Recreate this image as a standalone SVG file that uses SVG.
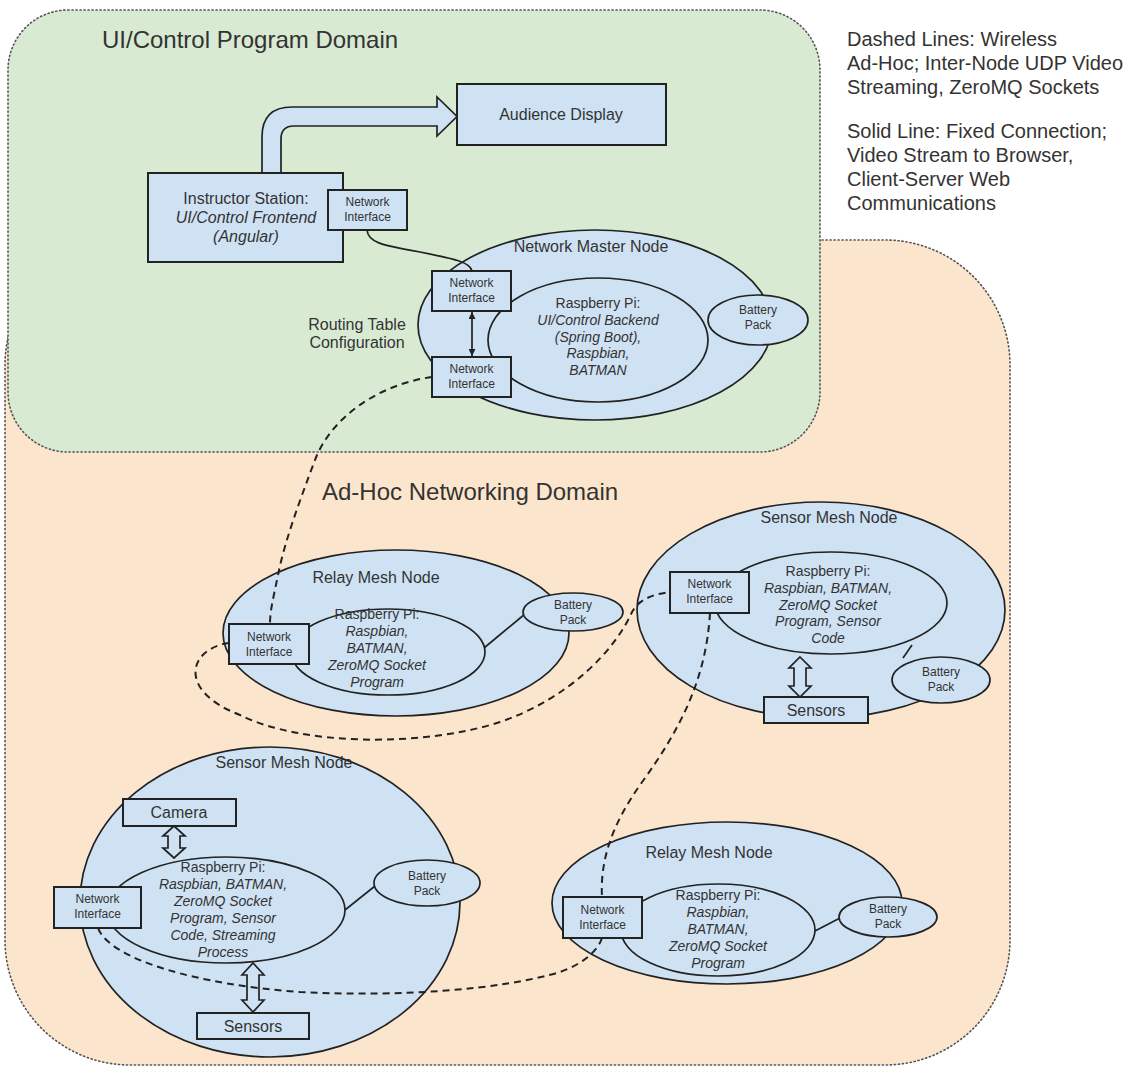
<svg xmlns="http://www.w3.org/2000/svg" width="1134" height="1068" viewBox="0 0 1134 1068">
<defs>
<style>
.dom{stroke:#555;stroke-width:1.6;stroke-dasharray:1.2 2.8;stroke-linecap:round}
.node{fill:#cfe2f3;stroke:#222;stroke-width:1.7}
.box{fill:#cfe2f3;stroke:#222;stroke-width:2}
.t{font-family:"Liberation Sans",Arial,sans-serif;fill:#333;text-anchor:middle}
.l{text-anchor:start}
.i{font-style:italic}
.f12{font-size:12px}
.f14{font-size:14px}
.f16{font-size:16px}
.f20{font-size:20px}
.f24{font-size:24px}
.dash{fill:none;stroke:#222;stroke-width:2;stroke-dasharray:7 5}
.solid{fill:none;stroke:#222;stroke-width:1.7}
</style>
<marker id="ah" viewBox="0 0 10 10" refX="10" refY="5" markerWidth="7" markerHeight="7" markerUnits="userSpaceOnUse" orient="auto-start-reverse">
<path d="M0,0 L10,5 L0,10 Z" fill="#222"/>
</marker>
</defs>

<g id="domains">
<rect id="adhoc-domain" x="5" y="240" width="1005" height="825" rx="125" ry="125" fill="#fce5cd" class="dom"/>
<rect id="ui-domain" x="8" y="10" width="812" height="442" rx="60" ry="60" fill="#d9ead3" class="dom"/>
<text class="t l f24" x="102" y="48">UI/Control Program Domain</text>
<text class="t l f24" x="322" y="500">Ad-Hoc Networking Domain</text>
</g>

<g id="legend" class="t l f20">
<text x="847" y="46">Dashed Lines: Wireless</text>
<text x="847" y="70">Ad-Hoc; Inter-Node UDP Video</text>
<text x="847" y="94">Streaming, ZeroMQ Sockets</text>
<text x="847" y="138">Solid Line: Fixed Connection;</text>
<text x="847" y="162">Video Stream to Browser,</text>
<text x="847" y="186">Client-Server Web</text>
<text x="847" y="210">Communications</text>
</g>

<g id="audience-arrow">
<path class="node" d="M262,173 L262,137 Q262,107 292,107 L437,107 L437,97 L457,116.5 L437,136 L437,126 L294,126 Q281,126 281,139 L281,173 Z"/>
</g>

<g id="audience-display">
<rect class="box" x="457" y="84" width="209" height="61"/>
<text class="t f16" x="561" y="120">Audience Display</text>
</g>

<g id="instructor-station">
<rect class="box" x="148" y="173" width="195" height="89"/>
<text class="t f16" x="246" y="204">Instructor Station:</text>
<text class="t f16 i" x="246" y="223">UI/Control Frontend</text>
<text class="t f16 i" x="246" y="242">(Angular)</text>
<rect class="box" x="328" y="190" width="79" height="40"/>
<text class="t f12" x="367.5" y="206">Network</text>
<text class="t f12" x="367.5" y="221">Interface</text>
</g>

<g id="network-master-node">
<ellipse class="node" cx="595" cy="325" rx="177" ry="95"/>
<ellipse class="node" cx="598" cy="340" rx="110" ry="62"/>
<ellipse class="node" cx="758" cy="320" rx="50" ry="25"/>
<text class="t f16" x="591" y="252">Network Master Node</text>
<text class="t f14" x="598" y="308">Raspberry Pi:</text>
<text class="t f14 i" x="598" y="325">UI/Control Backend</text>
<text class="t f14 i" x="598" y="341.5">(Spring Boot),</text>
<text class="t f14 i" x="598" y="358">Raspbian,</text>
<text class="t f14 i" x="598" y="375">BATMAN</text>
<text class="t f12" x="758" y="314">Battery</text>
<text class="t f12" x="758" y="329">Pack</text>
<rect class="box" x="432" y="271" width="79" height="40"/>
<text class="t f12" x="471.5" y="287">Network</text>
<text class="t f12" x="471.5" y="302">Interface</text>
<rect class="box" x="432" y="357" width="79" height="40"/>
<text class="t f12" x="471.5" y="373">Network</text>
<text class="t f12" x="471.5" y="388">Interface</text>
<text class="t f16" x="357" y="330">Routing Table</text>
<text class="t f16" x="357" y="348">Configuration</text>
</g>

<g id="relay-mesh-node-1">
<ellipse class="node" cx="396" cy="633" rx="173" ry="83"/>
<line class="solid" x1="484" y1="648" x2="525" y2="614"/>
<ellipse class="node" cx="388" cy="652" rx="97" ry="43"/>
<ellipse class="node" cx="573" cy="612" rx="50" ry="19"/>
<text class="t f16" x="376" y="583">Relay Mesh Node</text>
<text class="t f14" x="377" y="619">Raspberry Pi:</text>
<text class="t f14 i" x="377" y="636">Raspbian,</text>
<text class="t f14 i" x="377" y="653">BATMAN,</text>
<text class="t f14 i" x="377" y="670">ZeroMQ Socket</text>
<text class="t f14 i" x="377" y="687">Program</text>
<text class="t f12" x="573" y="609">Battery</text>
<text class="t f12" x="573" y="624">Pack</text>
<rect class="box" x="229" y="624" width="80" height="40"/>
<text class="t f12" x="269" y="641">Network</text>
<text class="t f12" x="269" y="656">Interface</text>
</g>

<g id="sensor-mesh-node-1">
<ellipse class="node" cx="821" cy="610" rx="184" ry="108"/>
<line class="solid" x1="912" y1="645" x2="903" y2="658"/>
<ellipse class="node" cx="831" cy="603" rx="116" ry="51"/>
<ellipse class="node" cx="941" cy="680" rx="49" ry="23"/>
<text class="t f16" x="829" y="523">Sensor Mesh Node</text>
<text class="t f14" x="828" y="576">Raspberry Pi:</text>
<text class="t f14 i" x="828" y="593">Raspbian, BATMAN,</text>
<text class="t f14 i" x="828" y="610">ZeroMQ Socket</text>
<text class="t f14 i" x="828" y="626">Program, Sensor</text>
<text class="t f14 i" x="828" y="643">Code</text>
<text class="t f12" x="941" y="676">Battery</text>
<text class="t f12" x="941" y="691">Pack</text>
<rect class="box" x="670" y="572" width="79" height="41"/>
<text class="t f12" x="709.5" y="588">Network</text>
<text class="t f12" x="709.5" y="603">Interface</text>
<polygon class="node" points="800,657 811,668 806,668 806,686 811,686 800,697 789,686 794,686 794,668 789,668"/>
<rect class="box" x="764" y="697" width="104" height="26"/>
<text class="t f16" x="816" y="716">Sensors</text>
</g>

<g id="relay-mesh-node-2">
<ellipse class="node" cx="727" cy="903" rx="175" ry="81"/>
<line class="solid" x1="815" y1="931" x2="840" y2="918"/>
<ellipse class="node" cx="718" cy="930" rx="97" ry="46"/>
<ellipse class="node" cx="888" cy="917" rx="49" ry="20"/>
<text class="t f16" x="709" y="858">Relay Mesh Node</text>
<text class="t f14" x="718" y="900">Raspberry Pi:</text>
<text class="t f14 i" x="718" y="917">Raspbian,</text>
<text class="t f14 i" x="718" y="934">BATMAN,</text>
<text class="t f14 i" x="718" y="951">ZeroMQ Socket</text>
<text class="t f14 i" x="718" y="968">Program</text>
<text class="t f12" x="888" y="913">Battery</text>
<text class="t f12" x="888" y="928">Pack</text>
<rect class="box" x="563" y="897" width="79" height="41"/>
<text class="t f12" x="602.5" y="914">Network</text>
<text class="t f12" x="602.5" y="929">Interface</text>
</g>

<g id="sensor-mesh-node-2">
<ellipse class="node" cx="270" cy="902" rx="190" ry="155"/>
<line class="solid" x1="345" y1="910" x2="375" y2="886"/>
<ellipse class="node" cx="226" cy="910" rx="119" ry="53"/>
<ellipse class="node" cx="427" cy="883" rx="53" ry="23"/>
<text class="t f16" x="284" y="768">Sensor Mesh Node</text>
<rect class="box" x="123" y="799" width="113" height="27"/>
<text class="t f16" x="179" y="818">Camera</text>
<polygon class="node" points="174,826 185,836 180,836 180,848 185,848 174,858 163,848 168,848 168,836 163,836"/>
<text class="t f14" x="223" y="872">Raspberry Pi:</text>
<text class="t f14 i" x="223" y="889">Raspbian, BATMAN,</text>
<text class="t f14 i" x="223" y="906">ZeroMQ Socket</text>
<text class="t f14 i" x="223" y="923">Program, Sensor</text>
<text class="t f14 i" x="223" y="940">Code, Streaming</text>
<text class="t f14 i" x="223" y="957">Process</text>
<text class="t f12" x="427" y="880">Battery</text>
<text class="t f12" x="427" y="895">Pack</text>
<rect class="box" x="54" y="887" width="87" height="41"/>
<text class="t f12" x="97.5" y="903">Network</text>
<text class="t f12" x="97.5" y="918">Interface</text>
<polygon class="node" points="253,963 264,975 259,975 259,1000 264,1000 253,1012 242,1000 247,1000 247,975 242,975"/>
<rect class="box" x="197" y="1013" width="112" height="26"/>
<text class="t f16" x="253" y="1032">Sensors</text>
</g>

<g id="connectors">
<path class="solid" d="M367,230 C368,242 380,245 420,252 C455,259 470,262 472,271"/>
<line class="solid" x1="472" y1="312" x2="472" y2="356" marker-start="url(#ah)" marker-end="url(#ah)"/>
<path class="dash" d="M432,377 C375,385 330,420 315,460 C300,500 285,540 278,575 C274,595 270,610 270,624"/>
<path class="dash" d="M229,643 C190,648 175,690 240,715 C300,745 420,748 500,722 C570,698 615,650 632,612 C640,598 655,594 670,592"/>
<path class="dash" d="M710,613 C706,680 680,730 640,785 C612,825 600,860 602,897"/>
<path class="dash" d="M602,938 C598,950 585,963 560,972 C500,990 400,997 300,992 C200,985 110,960 98,928"/>
</g>
</svg>
